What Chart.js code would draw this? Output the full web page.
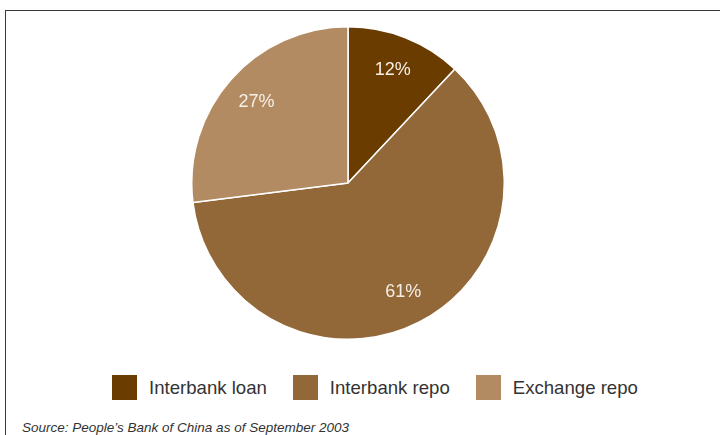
<!DOCTYPE html>
<html>
<head>
<meta charset="utf-8">
<script src="https://cdn.jsdelivr.net/npm/chart.js@4/dist/chart.umd.min.js"></script>
<style>
  html, body { margin: 0; padding: 0; background: #fff; }
  body { width: 720px; height: 435px; position: relative; overflow: hidden; font-family: "Liberation Sans", Arial, sans-serif; }
  .frame { position: absolute; left: 5px; top: 10px; width: 730px; height: 440px; border-left: 1.5px solid #3a3a3a; border-top: 1.5px solid #3a3a3a; box-sizing: border-box; }
  .pie-box { position: absolute; left: 191px; top: 26px; width: 314px; height: 314px; }
  .legend { position: absolute; left: 112px; top: 375px; display: flex; align-items: center; }
  .legend-item { display: flex; align-items: center; margin-right: 26px; }
  .legend-item:last-child { margin-right: 0; }
  .swatch { width: 25px; height: 25px; margin-right: 12px; }
  .legend-label { font-size: 18.6px; color: #333; line-height: 25px; }
  .source { position: absolute; left: 22px; top: 420px; font-size: 13.5px; font-style: italic; color: #333; white-space: nowrap; }
</style>
</head>
<body>
<div class="frame"></div>
<div class="pie-box"><canvas id="chart-anteile"></canvas></div>
<div class="legend" id="legende"></div>
<div class="source">Source: People’s Bank of China as of September 2003</div>

<script>
// Anteile am Geldmarkt (Sept. 2003)
const kategorien = ['Interbank loan', 'Interbank repo', 'Exchange repo'];
const anteile    = [12, 61, 27];
const farben     = ['#6b3c00', '#936838', '#b38b62'];

// Legende als HTML
document.getElementById('legende').innerHTML = kategorien.map((k, i) => `
  <div class="legend-item">
    <div class="swatch" style="background:${farben[i]}"></div>
    <div class="legend-label">${k}</div>
  </div>`).join('');

// ── Prozent-Beschriftung in den Segmenten ──
const prozentLabels = {
  id: 'prozentLabels',
  afterDatasetsDraw(chart) {
    const { ctx } = chart;
    const meta = chart.getDatasetMeta(0);
    ctx.save();
    ctx.font = '18px "Liberation Sans", Arial, sans-serif';
    ctx.fillStyle = '#f6efe6';
    ctx.textAlign = 'center';
    ctx.textBaseline = 'middle';
    meta.data.forEach((arc, i) => {
      const { x, y, startAngle, endAngle, outerRadius } = arc.getProps(['x', 'y', 'startAngle', 'endAngle', 'outerRadius'], true);
      const mitte = (startAngle + endAngle) / 2;
      const r = outerRadius * 0.78;
      ctx.fillText(anteile[i] + '%', x + Math.cos(mitte) * r, y + Math.sin(mitte) * r);
    });
    ctx.restore();
  }
};

new Chart(document.getElementById('chart-anteile'), {
  type: 'pie',
  data: {
    labels: kategorien,
    datasets: [{
      data: anteile,
      backgroundColor: farben,
      borderColor: '#ffffff',
      borderWidth: 1.5
    }]
  },
  options: {
    responsive: true,
    maintainAspectRatio: false,
    animation: false,
    layout: { padding: 0 },
    plugins: {
      legend: { display: false },
      tooltip: { enabled: false }
    }
  },
  plugins: [prozentLabels]
});
</script>
</body>
</html>
